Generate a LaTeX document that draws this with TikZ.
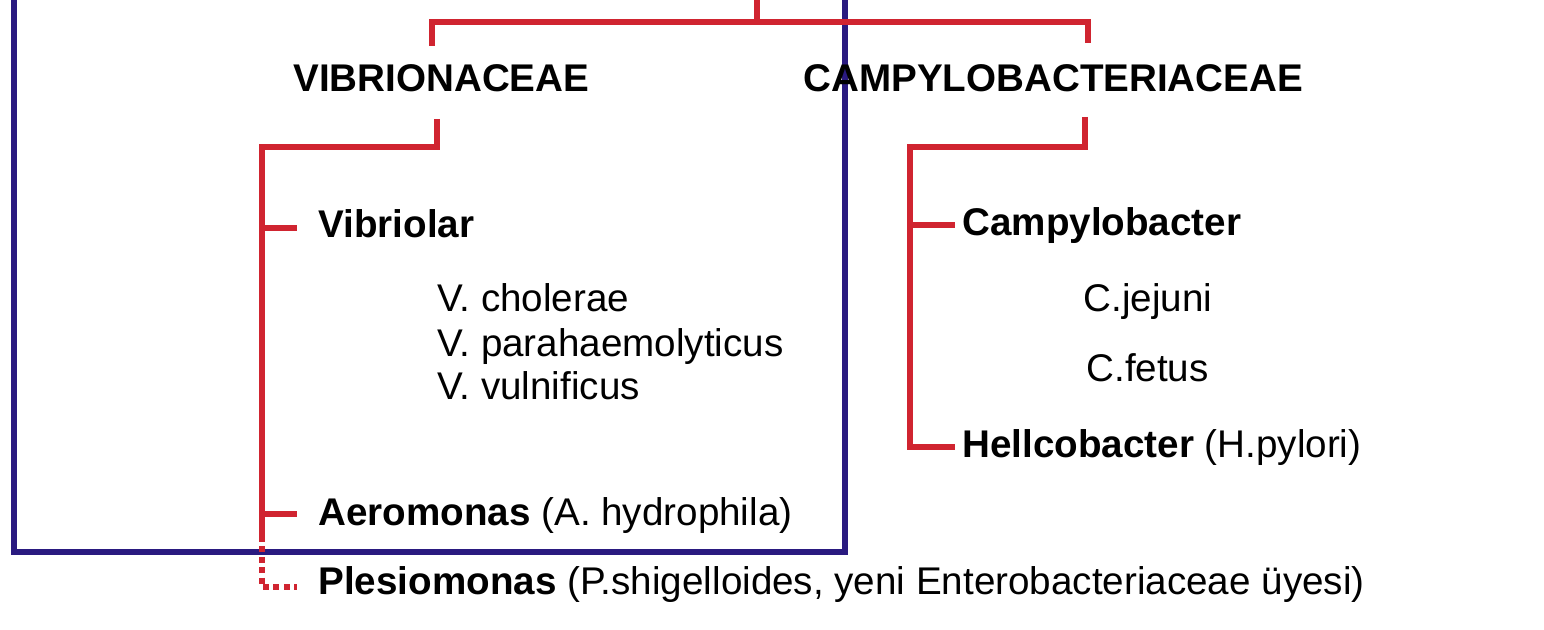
\documentclass[tikz,border=0pt]{standalone}
\usepackage{fontspec}
\setmainfont{Liberation Sans}
\definecolor{treered}{HTML}{D02430}
\definecolor{boxblue}{HTML}{2A1A80}
\begin{document}
\begin{tikzpicture}[x=0.5pt,y=-0.5pt,
  lbl/.style={anchor=base west,inner sep=0pt,font=\fontsize{19.3}{23}\selectfont},
  fam/.style={lbl,font=\fontsize{19.3}{23}\selectfont\bfseries},
  lgen/.style={lbl,inner xsep=10.5pt},
  rgen/.style={lbl,inner xsep=3.5pt},
  tree/.style={draw=treered,line width=3.2pt},
  treedot/.style={draw=treered,line width=3.2pt,dash pattern=on 3pt off 2.2pt},
  frame/.style={draw=boxblue,line width=3pt}]
\useasboundingbox (0,0) rectangle (1544,630);
% frame
\coordinate (f1) at (14,-20);
\coordinate (f2) at (845,552);
\draw[frame] (f1) rectangle (f2);
% family labels
\node[fam] (vib) at (293,92) {VIBRIONACEAE};
\node[fam] (camp) at (803,92) {CAMPYLOBACTERIACEAE};
% left genus / species
\node[lgen] (vibriolar) at (297,238) {\bfseries Vibriolar};
\node[lbl] (vch) at (437,312) {V. cholerae};
\node[lbl] (vpa) at (437,357) {V. parahaemolyticus};
\node[lbl] (vvu) at (437,400) {V. vulnificus};
\node[lgen] (aero) at (297,526) {\textbf{Aeromonas} (A. hydrophila)};
\node[lgen] (ples) at (297,595) {\textbf{Plesiomonas} (P.shigelloides, yeni Enterobacteriaceae üyesi)};
% right genus / species
\node[rgen] (campy) at (955,236) {\bfseries Campylobacter};
\node[lbl] (cje) at (1083,312) {C.jejuni};
\node[lbl] (cfe) at (1086,382) {C.fetus};
\node[rgen] (heli) at (955,458) {\textbf{Hellcobacter} (H.pylori)};
% tree coordinates
\coordinate (root) at (757,-10);
\coordinate (rootj) at (757,22);
\coordinate (lj) at (432,22);
\coordinate (rj) at (1088,22);
\coordinate (lend) at (432,46);
\coordinate (rend) at (1088,43);
\coordinate (vtop) at (437,119);
\coordinate (vcorner) at (437,147);
\coordinate (vspine) at (262,147);
\coordinate (vsolid) at (262,536);
\coordinate (vdot) at (262,587);
\coordinate (ctop) at (1085,117);
\coordinate (ccorner) at (1085,147);
\coordinate (cspine) at (910,147);
\coordinate (cbot) at (910,447);
% top connector
\draw[tree] (root) -- (rootj);
\draw[tree] (lend) -- (lj) -- (rj) -- (rend);
% left subtree
\draw[tree] (vtop) -- (vcorner) -- (vspine) -- (vsolid);
\draw[tree] (262,228) -- (vibriolar.west |- 0,228);
\draw[tree] (262,514) -- (aero.west |- 0,514);
\draw[treedot] (vsolid) -- (vdot) -- (ples.west |- 0,587);
% right subtree
\draw[tree] (ctop) -- (ccorner) -- (cspine) -- (cbot) -- (heli.west |- 0,447);
\draw[tree] (910,225) -- (campy.west |- 0,225);
\end{tikzpicture}
\end{document}
